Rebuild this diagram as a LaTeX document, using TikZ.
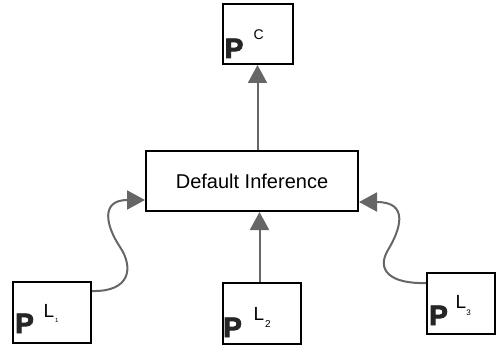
\documentclass[tikz,border=0pt]{standalone}
\usepackage{fontspec}
\setmainfont{Liberation Sans}
\newfontfamily\heavyfont{Liberation Sans Bold}[FakeBold=3]
\usetikzlibrary{arrows.meta,calc}
\definecolor{edgegray}{HTML}{666666}
\begin{document}
\begin{tikzpicture}[x=1pt,y=-1pt,
  box/.style={draw=black,line width=2pt,fill=white,inner sep=0pt,rectangle},
  link/.style={draw=edgegray,line width=2pt,-{Triangle[length=18pt,width=19pt]}},
  bigp/.style={anchor=base west,inner sep=0pt,font=\heavyfont\fontsize{28}{28}\selectfont,text=black!85},
  supl/.style={anchor=base west,inner sep=0pt,font=\fontsize{19}{19}\selectfont},
  subl/.style={anchor=base west,inner sep=0pt},
  lbl/.style={inner sep=0pt,font=\fontsize{20}{20}\selectfont}]
\useasboundingbox (0,0) rectangle (496,345);
% boxes
\node[box,minimum width=70pt,minimum height=60pt] (top) at (257.5,34) {};
\node[box,minimum width=212pt,minimum height=60pt] (mid) at (252,181) {};
\node[box,minimum width=78pt,minimum height=61pt] (L1) at (52,312.5) {};
\node[box,minimum width=78pt,minimum height=61pt] (L2) at (262,313.5) {};
\node[box,minimum width=68pt,minimum height=61pt] (L3) at (461,303.5) {};
% texts
\node[lbl] (midtext) at (mid.center) {Default Inference};
\node[bigp] (pc) at (224.5,58) {P};
\node[anchor=base west,inner sep=0pt,font=\fontsize{14}{14}\selectfont] (cc) at (253.5,39.5) {C};
\node[bigp] (p1) at (15,333) {P};
\node[supl] (l1) at (43.5,317) {L};
\node[subl,font=\fontsize{6}{6}\selectfont] (s1) at (54.8,322) {1};
\node[bigp] (p2) at (223,337) {P};
\node[supl] (l2) at (253.5,320) {L};
\node[subl,font=\fontsize{10}{10}\selectfont] (s2) at (264.8,327) {2};
\node[bigp] (p3) at (429,325) {P};
\node[supl] (l3) at (455.5,308) {L};
\node[subl,font=\fontsize{8}{8}\selectfont] (s3) at (466.2,315) {3};
% connectors
\path[link] (top.south |- mid.north) -- (top.south);
\coordinate (b2) at ($(L2.north)+(-2.5,0)$);
\path[link] (b2) -- (b2 |- mid.south);
\coordinate (a1) at ($(L1.north east)+(0,10)$);
\coordinate (e1) at ($(mid.west)+(0,19)$);
\path[link] (a1) .. controls (130,292) and (134,268) .. (120,247)
  .. controls (106,226) and (100,200) .. (e1);
\coordinate (a3) at ($(L3.north west)+(0,11)$);
\coordinate (e3) at ($(mid.east)+(0,21)$);
\path[link] (a3) .. controls (390,284) and (376,270) .. (388,250)
  .. controls (400,230) and (410,202) .. (e3);
\end{tikzpicture}
\end{document}
